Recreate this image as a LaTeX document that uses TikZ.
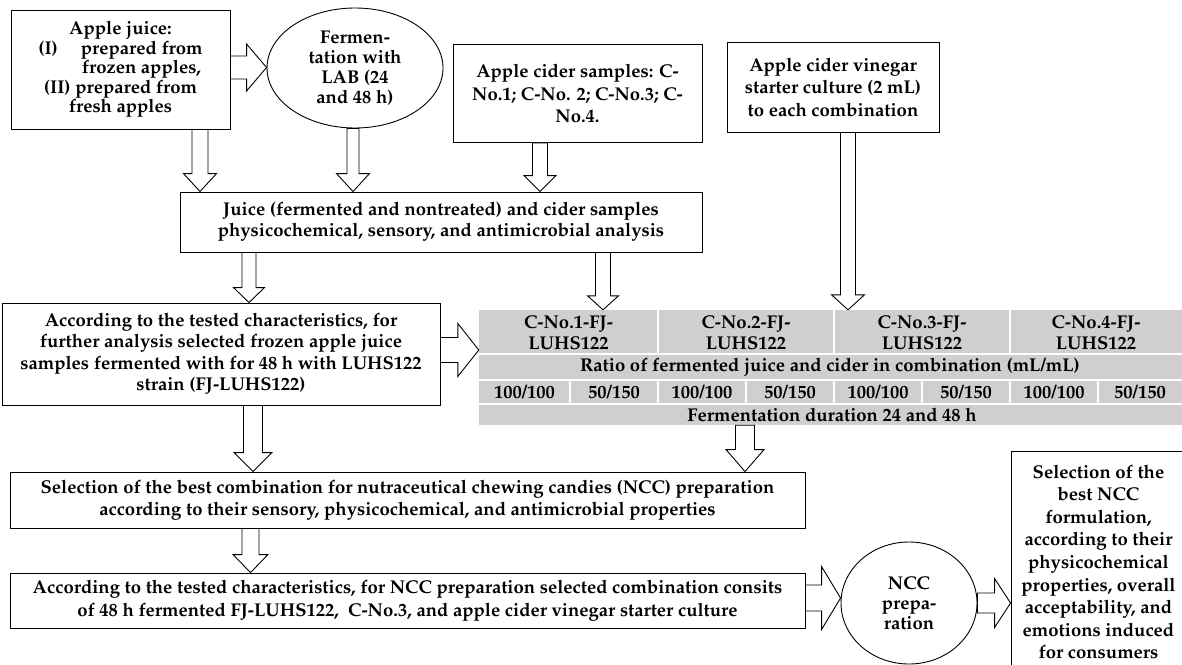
\documentclass[tikz,border=0pt]{standalone}
\usepackage[T1]{fontenc}
\renewcommand\rmdefault{ppl}
\usetikzlibrary{calc,shapes.geometric}
\definecolor{tabgray}{RGB}{208,206,206}
\newcommand\myfs[1]{\fontsize{18.5}{#1}\selectfont\bfseries}
% vertical block arrow: #1 x, #2 from, #3 to, #4 shaft half width, #5 head half width, #6 head length
\newcommand\varrowblk[6]{%
  \draw[blk] let \p1=(#2), \p2=(#3) in
  (#1pt-#4pt,\y1) -- (#1pt-#4pt,\y2+#6pt) -- (#1pt-#5pt,\y2+#6pt) -- (#1pt,\y2)
  -- (#1pt+#5pt,\y2+#6pt) -- (#1pt+#4pt,\y2+#6pt) -- (#1pt+#4pt,\y1) -- cycle;}
% horizontal block arrow: #1 y (pixel), #2 from, #3 to, #4 shaft half, #5 head half, #6 head length
\newcommand\harrowblk[6]{%
  \draw[blk] let \p1=(#2), \p2=(#3) in
  (\x1,-#1pt+#4pt) -- (\x2-#6pt,-#1pt+#4pt) -- (\x2-#6pt,-#1pt+#5pt) -- (\x2,-#1pt)
  -- (\x2-#6pt,-#1pt-#5pt) -- (\x2-#6pt,-#1pt-#4pt) -- (\x1,-#1pt-#4pt) -- cycle;}
\begin{document}
\begin{tikzpicture}[x=1pt,y=-1pt,
  box/.style={draw=black, line width=0.9pt, fill=white, inner sep=0pt, align=center},
  ell/.style={ellipse, draw=black, line width=0.9pt, fill=white, inner sep=0pt, align=center},
  blk/.style={draw=black, line width=0.9pt, fill=white, line join=miter},
  cell/.style={inner sep=0pt, align=center, font=\myfs{21}},
  sep/.style={draw=white, line width=2pt}]
\useasboundingbox (0,0) rectangle (1182,664);
\fill[white] (0,0) rectangle (1182,664);

% nodes
\node[box, minimum width=219pt, minimum height=119pt, font=\myfs{19.5}] (aj) at (120.5,69.5)
  {Apple juice:\\(I)\hspace{23pt}prepared from\\\hspace*{42pt}frozen apples,\\(II) prepared from\\fresh apples};
\node[ell, minimum width=176pt, minimum height=120pt, font=\myfs{20}] (fe) at (355,68)
  {Fermen-\\tation with\\LAB (24\\and 48 h)};
\node[box, minimum width=249pt, minimum height=98pt, font=\myfs{22.5}] (cs) at (577.5,93.5)
  {Apple cider samples: C-\\No.1; C-No. 2; C-No.3; C-\\No.4.};
\node[box, minimum width=212pt, minimum height=90pt, font=\myfs{22.5}] (vc) at (833,87)
  {Apple cider vinegar\\starter culture (2 mL)\\to each combination};
\node[box, minimum width=522pt, minimum height=60pt, font=\myfs{21}] (jb) at (441,222)
  {Juice (fermented and nontreated) and cider samples\\physicochemical, sensory, and antimicrobial analysis};
\node[box, minimum width=438pt, minimum height=102pt, font=\myfs{21.5}] (acc) at (221,354)
  {According to the tested characteristics, for\\further analysis selected frozen apple juice\\samples fermented with for 48 h with LUHS122\\strain (FJ-LUHS122)};

% table
\node[fill=tabgray, inner sep=0pt, minimum width=705pt, minimum height=115pt] (tab) at (831.5,367.5) {};
\draw[sep] (479,354) -- (1184,354);
\draw[sep] (479,380) -- (1184,380);
\draw[sep] (479,403.5) -- (1184,403.5);
\foreach \xx in {658,834,1010} \draw[sep] (\xx,310) -- (\xx,354);
\foreach \xx in {570,658,746,834,922,1010,1098} \draw[sep] (\xx,380) -- (\xx,403.5);
\node[cell] (c1) at (568.5,332.5) {C-No.1-FJ-\\LUHS122};
\node[cell] (c2) at (746,332.5) {C-No.2-FJ-\\LUHS122};
\node[cell] (c3) at (922,332.5) {C-No.3-FJ-\\LUHS122};
\node[cell] (c4) at (1096,332.5) {C-No.4-FJ-\\LUHS122};
\node[cell] (ratio) at (830,367) {Ratio of fermented juice and cider in combination (mL/mL)};
\node[cell] (r1) at (524.5,392) {100/100};
\node[cell] (r2) at (614,392) {50/150};
\node[cell] (r3) at (702,392) {100/100};
\node[cell] (r4) at (790,392) {50/150};
\node[cell] (r5) at (878,392) {100/100};
\node[cell] (r6) at (966,392) {50/150};
\node[cell] (r7) at (1054,392) {100/100};
\node[cell] (r8) at (1140,392) {50/150};
\node[cell] (dur) at (832,414.5) {Fermentation duration 24 and 48 h};

\node[box, minimum width=795pt, minimum height=56pt, font=\myfs{22}] (sel) at (407.5,500)
  {Selection of the best combination for nutraceutical chewing candies (NCC) preparation\\according to their sensory, physicochemical, and antimicrobial properties};
\node[box, minimum width=795pt, minimum height=55pt, font=\myfs{23}] (last) at (407.5,600.5)
  {According to the tested characteristics, for NCC preparation selected combination consits\\of 48 h fermented FJ-LUHS122,\ \ C-No.3, and apple cider vinegar starter culture};
\node[ell, minimum width=136pt, minimum height=122pt, font=\myfs{20}] (ncc) at (909,603)
  {NCC\\prepa-\\ration};
\node[box, minimum width=175pt, minimum height=222pt, font=\myfs{22.6}] (rb) at (1098.5,562)
  {Selection of the\\best NCC\\formulation,\\according to their\\physicochemical\\properties, overall\\acceptability, and\\emotions induced\\for consumers};

% block arrows
\harrowblk{67.5}{aj.east}{fe.west}{11.5}{23.5}{20}
\varrowblk{200}{aj.south}{jb.north}{8}{16.5}{18}
\varrowblk{353}{fe.south}{jb.north}{6}{16.5}{18}
\varrowblk{540}{cs.south}{jb.north}{7.5}{16}{16}
\varrowblk{249}{jb.south}{acc.north}{7}{15.5}{15}
\varrowblk{603}{jb.south}{tab.north}{7.5}{15.5}{14}
\varrowblk{848}{vc.south}{tab.north}{7.5}{16.5}{15}
\harrowblk{350}{acc.east}{tab.west}{12.5}{26.5}{21}
\varrowblk{253}{acc.south}{sel.north}{9.5}{19}{19}
\varrowblk{745}{tab.south}{sel.north}{9.5}{19}{22}
\varrowblk{250.5}{sel.south}{last.north}{8.5}{17.5}{18}
\harrowblk{598}{last.east}{ncc.west}{13}{31.5}{19}
\harrowblk{603}{ncc.east}{rb.west}{10}{24.5}{16}
\end{tikzpicture}
\end{document}
